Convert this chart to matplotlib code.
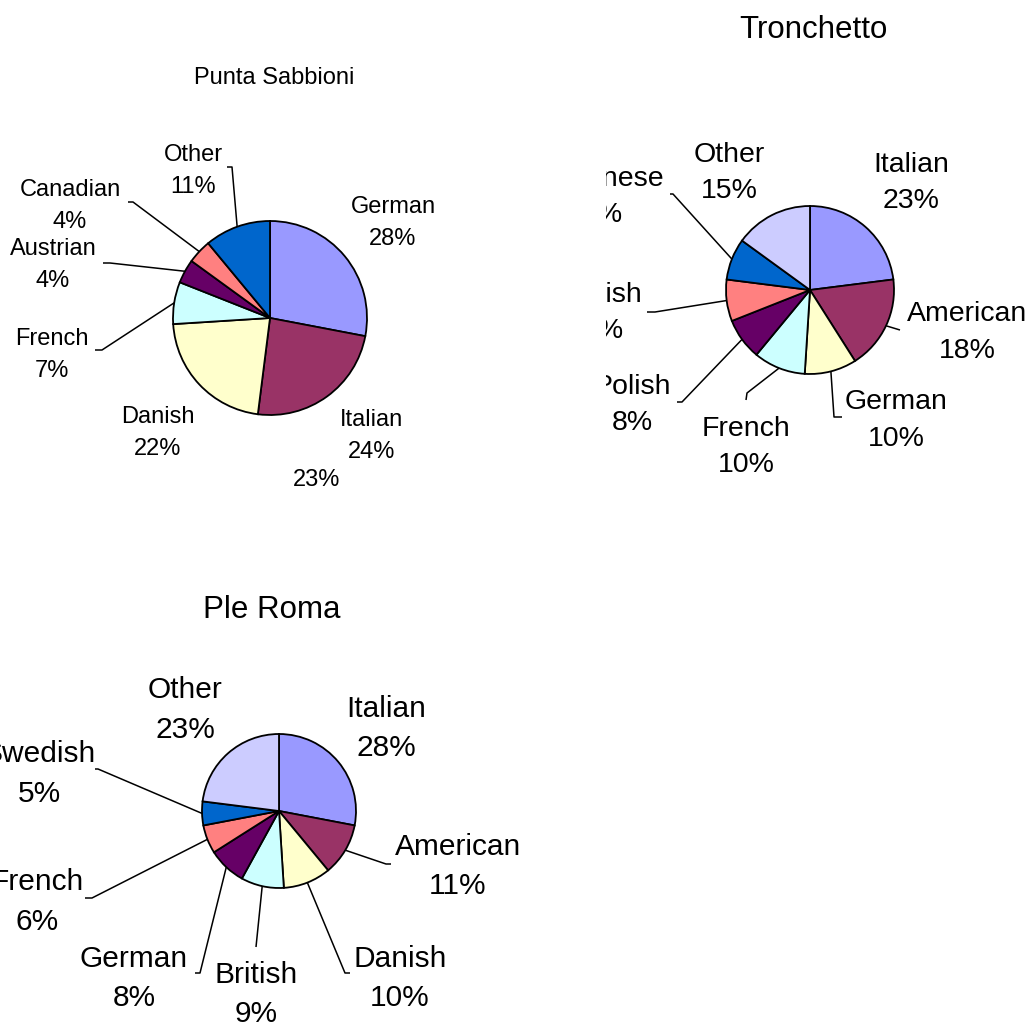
import numpy as np
import matplotlib.pyplot as plt

W, H = 1034, 1027
plt.rcParams['font.family'] = ['Liberation Sans', 'DejaVu Sans']

colors = ['#9999FF', '#993366', '#FFFFCC', '#CCFFFF', '#660066', '#FF8080', '#0066CC', '#CCCCFF']

ps_names = ['German', 'Italian', 'Danish', 'French', 'Austrian', 'Canadian', 'Other']
ps_values = [28, 24, 22, 7, 4, 4, 11]

tr_names = ['Italian', 'American', 'German', 'French', 'Polish', 'British', 'Japanese', 'Other']
tr_values = [23, 18, 10, 10, 8, 8, 8, 15]

pr_names = ['Italian', 'American', 'Danish', 'British', 'German', 'French', 'Swedish', 'Other']
pr_values = [28, 11, 10, 9, 8, 6, 5, 23]

# nudge so the capitals sit centred on the given y
DY = -2


def panel(fig, box, title, title_xy, title_size, names, values, center, radius,
          label_xy, gap, size, leaders):
    # box is (left, top, right, bottom) in pixels; data units are pixels too
    x0, y0, x1, y1 = box
    ax = fig.add_axes([x0 / W, 1 - y1 / H, (x1 - x0) / W, (y1 - y0) / H])
    cx, cy = center
    wedges, _ = ax.pie(values, colors=colors[:len(values)], startangle=90,
                       counterclock=False, radius=radius, center=(cx, H - cy),
                       frame=True,
                       wedgeprops=dict(edgecolor='black', linewidth=1.3))
    ax.set_xlim(x0, x1)
    ax.set_ylim(H - y1, H - y0)
    ax.set_aspect('auto')
    ax.set_axis_off()

    ax.text(title_xy[0], H - title_xy[1] + DY, title, fontsize=title_size,
            ha='center', va='center', clip_on=True)

    for i, (name, v) in enumerate(zip(names, values)):
        lx, ly = label_xy[i]
        ax.text(lx, H - ly + DY, name, fontsize=size, ha='center', va='center', clip_on=True)
        ax.text(lx, H - ly - gap + DY, f'{v}%', fontsize=size, ha='center', va='center', clip_on=True)
        if i in leaders:
            w = wedges[i]
            mid = np.deg2rad((w.theta1 + w.theta2) / 2)
            pts = [(cx + radius * np.cos(mid), H - cy + radius * np.sin(mid))]
            pts += [(px, H - py) for px, py in leaders[i]]
            xs, ys = zip(*pts)
            ax.plot(xs, ys, color='black', lw=1.1, solid_capstyle='butt')
    return ax


fig = plt.figure(figsize=(W / 100, H / 100), dpi=100)

ax1 = panel(fig, (0, 0, 560, 540), 'Punta Sabbioni', (274, 76), 17,
            ps_names, ps_values, (270, 318), 97,
            [(393, 205), (372, 418), (158, 415), (52, 337), (53, 247), (70, 188), (193, 153)],
            32, 17,
            {3: [(102, 350), (95, 350)],
             4: [(110, 263), (103, 263)],
             5: [(133, 202), (128, 202)],
             6: [(232, 167), (227, 167)]})
ax1.text(317, H - 478 + DY, '23%', fontsize=17, ha='center', va='center')

panel(fig, (606, 0, 1034, 540), 'Tronchetto', (813, 28), 22.5,
      tr_names, tr_values, (810, 290), 84,
      [(911, 163), (967, 312), (896, 400), (746, 427), (632, 385), (603, 293),
       (602, 177), (729, 153)],
      36.5, 20.5,
      {1: [(900, 330)],
       2: [(834, 417), (842, 417)],
       3: [(747, 393), (746, 400)],
       4: [(682, 402), (677, 402)],
       5: [(655, 312), (647, 312)],
       6: [(673, 194), (670, 194)]})

panel(fig, (0, 560, 560, 1027), 'Ple Roma', (272, 608), 22.5,
      pr_names, pr_values, (279, 811), 77,
      [(386, 707), (458, 845), (400, 957), (256, 973), (134, 957), (37, 880),
       (39, 752), (185, 688)],
      39.5, 21.5,
      {1: [(386, 864), (391, 864)],
       2: [(345, 973), (350, 973)],
       3: [(256, 947)],
       4: [(200, 973), (195, 973)],
       5: [(92, 898), (85, 898)],
       6: [(98, 769), (95, 769)]})

fig.savefig('out.png', dpi=100)
